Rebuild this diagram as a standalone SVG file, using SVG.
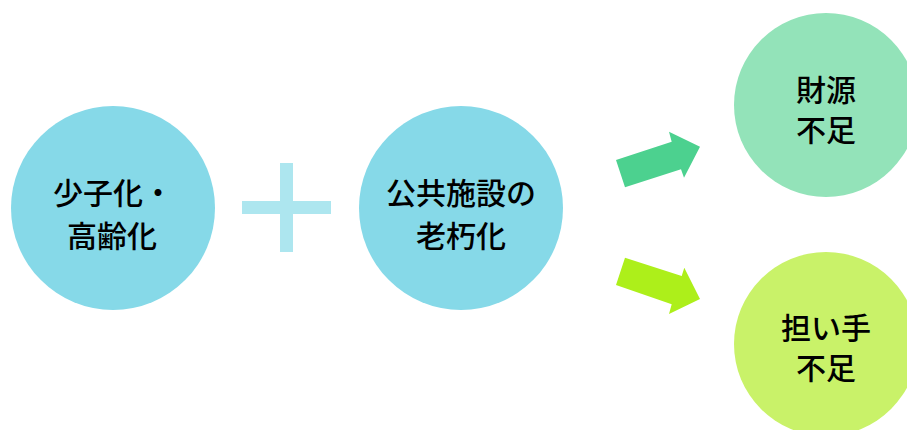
<svg xmlns="http://www.w3.org/2000/svg" width="907" height="430" viewBox="0 0 907 430">
<style>
text{font-family:"Noto Sans CJK JP","Noto Sans CJK SC",sans-serif;font-size:30px;font-weight:500;fill:#000;text-anchor:middle;dominant-baseline:central}
.blue{fill:#86D9E8}
</style>
<rect width="907" height="430" fill="#fff"/>
<g id="node-shoshika">
<circle class="blue" cx="113" cy="208" r="102"/>
<text x="113" y="191">少子化・</text>
<text x="112" y="234">高齢化</text>
</g>
<g id="plus">
<rect x="280" y="163" width="13" height="89" fill="#ADE6EF"/>
<rect x="242" y="201" width="89" height="13" fill="#ADE6EF"/>
</g>
<g id="node-kokyo">
<circle class="blue" cx="461" cy="208" r="102"/>
<text x="461" y="191">公共施設の</text>
<text x="461" y="234">老朽化</text>
</g>
<g id="node-zaigen">
<circle cx="826" cy="105" r="92" fill="#93E3B9"/>
<text x="826" y="88">財源</text>
<text x="826" y="128">不足</text>
</g>
<g id="node-ninaite">
<circle cx="826" cy="344" r="92" fill="#C9F269"/>
<text x="826" y="326">担い手</text>
<text x="826" y="366">不足</text>
</g>
<g id="connectors">
<polygon points="616,160 671.7,141.7 669,131.7 700,146.7 684,177.7 681,169.3 625,187.3" fill="#4CD18F"/>
<polygon points="625,257.7 681.7,276 684.3,267.7 700,299 669,314 671.7,304.3 616,285" fill="#ADEF1A"/>
</g>
</svg>
